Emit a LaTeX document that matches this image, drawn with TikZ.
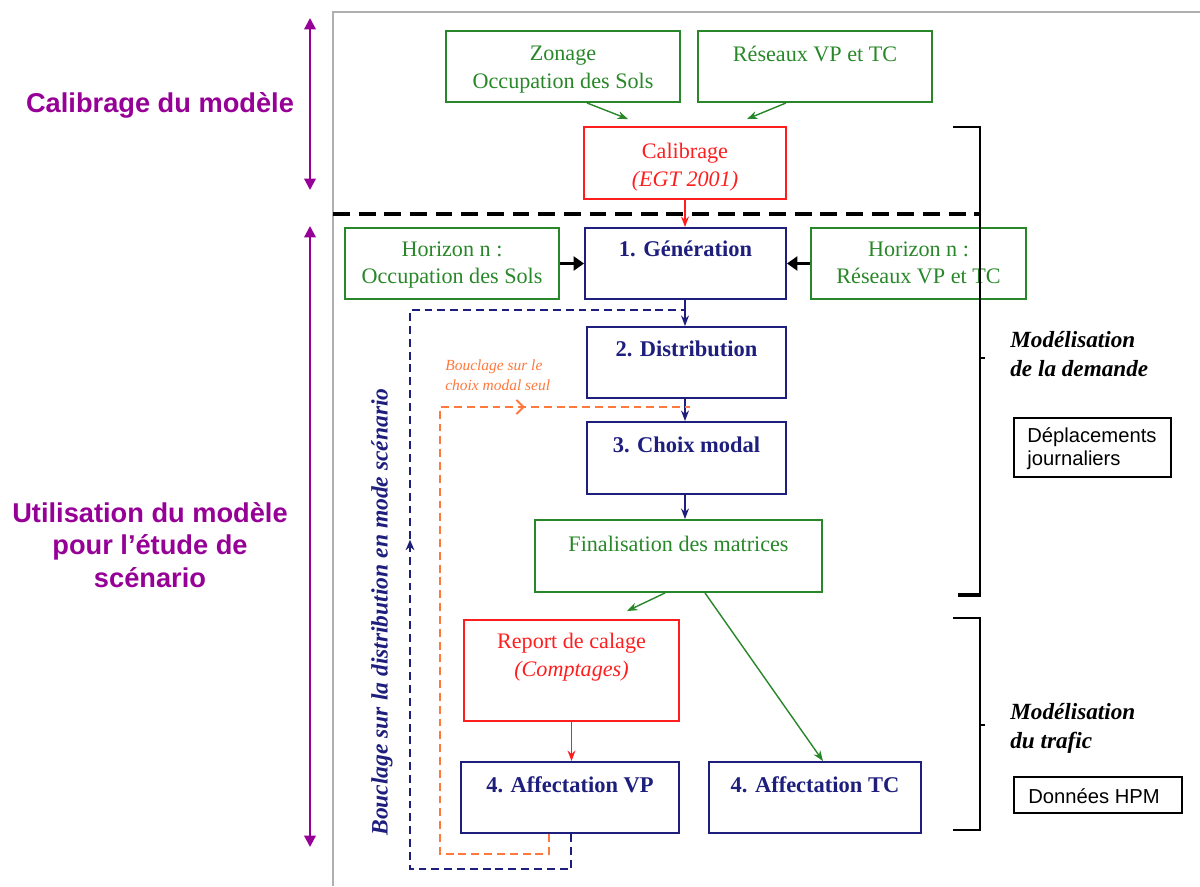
\documentclass[tikz,border=0pt]{standalone}
\usepackage{fontspec}
\setmainfont{Liberation Serif}
\setsansfont{Liberation Sans}
\usetikzlibrary{arrows.meta,decorations.markings}
\definecolor{cgreen}{RGB}{40,135,40}
\definecolor{cnavy}{RGB}{30,30,125}
\definecolor{cred}{RGB}{255,30,30}
\definecolor{corange}{RGB}{255,120,60}
\definecolor{cpurple}{RGB}{150,0,150}
\definecolor{cframe}{RGB}{175,175,175}
\tikzset{
  box/.style={draw, line width=1.1pt, inner sep=0pt},
  gbox/.style={box, draw=cgreen},
  nbox/.style={box, draw=cnavy},
  rbox/.style={box, draw=cred},
  kbox/.style={box, draw=black, line width=0.9pt},
  txt/.style={inner sep=0pt, anchor=north, align=center, font=\fontsize{12.6}{15.9}\selectfont},
  gtxt/.style={txt, text=cgreen},
  ntxt/.style={txt, text=cnavy, font=\bfseries\fontsize{12.8}{15.9}\selectfont},
  rtxt/.style={txt, text=cred},
  conn/.style={line width=0.8pt, -{Stealth[length=6pt,width=4.5pt]}},
  bigarr/.style={line width=2pt, -{Triangle[length=6pt,width=8pt]}},
  loopn/.style={cnavy, line width=0.9pt, dash pattern=on 4.5pt off 2.8pt},
  loopo/.style={corange, line width=1.1pt, dash pattern=on 4.5pt off 2.8pt},
  bracket/.style={line width=1.4pt},
  parr/.style={cpurple, line width=1.3pt, {Triangle[length=6.5pt,width=6.5pt]}-{Triangle[length=6.5pt,width=6.5pt]}},
  side/.style={inner sep=0pt, anchor=north west, align=left, font=\bfseries\itshape\fontsize{13.2}{16.5}\selectfont},
  sans/.style={inner sep=0pt, anchor=north west, align=left, font=\sffamily\fontsize{11.5}{13.5}\selectfont},
  ptxt/.style={inner sep=0pt, align=center, text=cpurple, font=\sffamily\bfseries\fontsize{15.5}{18.5}\selectfont}
}
\begin{document}
\begin{tikzpicture}[x=0.02cm,y=-0.02cm]
\useasboundingbox (0,0) rectangle (1200,886);
% frame
\draw[cframe, line width=1.2pt] (333,886) -- (333,12) -- (1200,12);
% boxes
\node[gbox, minimum width=4.68cm, minimum height=1.42cm] (zon) at (563,66.5) {};
\node[gtxt] (zont) at (563,46) {Zonage\\Occupation des Sols};
\node[gbox, minimum width=4.68cm, minimum height=1.42cm] (res) at (815,66.5) {};
\node[gtxt] (rest) at (815,46) {Réseaux VP et TC};
\node[rbox, minimum width=4.04cm, minimum height=1.44cm] (cal) at (685,163) {};
\node[rtxt] (calt) at (685,143) {Calibrage\\\textit{(EGT 2001)}};
\node[gbox, minimum width=4.28cm, minimum height=1.42cm] (hl) at (452,263.5) {};
\node[gtxt] (hlt) at (452,241) {Horizon n :\\Occupation des Sols};
\node[nbox, minimum width=4.02cm, minimum height=1.42cm] (gen) at (685.5,263.5) {};
\node[ntxt] (gent) at (685.5,241) {1. Génération};
\node[gbox, minimum width=4.3cm, minimum height=1.42cm] (hr) at (918.5,263.5) {};
\node[gtxt] (hrt) at (918.5,241) {Horizon n :\\Réseaux VP et TC};
\node[nbox, minimum width=3.98cm, minimum height=1.42cm] (dist) at (686.5,362.5) {};
\node[ntxt] (distt) at (686.5,341) {2. Distribution};
\node[nbox, minimum width=3.98cm, minimum height=1.44cm] (cho) at (686.5,458) {};
\node[ntxt] (chot) at (686.5,437) {3. Choix modal};
\node[gbox, minimum width=5.74cm, minimum height=1.44cm] (fin) at (678.5,556) {};
\node[gtxt] (fint) at (678.5,536) {Finalisation des matrices};
\node[rbox, minimum width=4.3cm, minimum height=2.02cm] (rep) at (571.5,670.5) {};
\node[rtxt] (rept) at (571.5,633) {Report de calage\\\textit{(Comptages)}};
\node[nbox, minimum width=4.36cm, minimum height=1.42cm] (avp) at (570,797.5) {};
\node[ntxt] (avpt) at (570,776) {4. Affectation VP};
\node[nbox, minimum width=4.24cm, minimum height=1.42cm] (atc) at (815,797.5) {};
\node[ntxt] (atct) at (815,776) {4. Affectation TC};
\node[kbox, minimum width=3.14cm, minimum height=1.18cm] (dep) at (1092.5,447.5) {};
\node[sans] (dept) at (1027,427) {Déplacements\\journaliers};
\node[kbox, minimum width=3.36cm, minimum height=0.72cm] (hpm) at (1098,795) {};
\node[sans] (hpmt) at (1028,788) {Données HPM};
% side texts
\node[side] (md) at (1010,331) {Modélisation\\de la demande};
\node[side] (mt) at (1010,703) {Modélisation\\du trafic};
\node[ptxt] (calm) at (160,105) {Calibrage du modèle};
\node[ptxt] (util) at (150,545) {Utilisation du modèle\\pour l’étude de\\scénario};
\node[rotate=90, inner sep=0pt, text=cnavy, font=\bfseries\itshape\fontsize{13.4}{16}\selectfont] (bcl) at (382,612) {Bouclage sur la distribution en mode scénario};
\node[inner sep=0pt, anchor=north west, align=left, text=corange, font=\itshape\fontsize{8.8}{11.8}\selectfont] (bco) at (445,359) {Bouclage sur le\\choix modal seul};
% connectors
\draw[conn, cgreen] ([xshift=0.48cm]zon.south) -- ([xshift=-1.14cm, yshift=0.14cm]cal.north);
\draw[conn, cgreen] ([xshift=-0.58cm]res.south) -- ([xshift=1.24cm, yshift=0.14cm]cal.north);
\draw[conn, cred] (cal.south) -- (cal.south |- gen.north);
\draw[bigarr] (hl.east) -- (gen.west);
\draw[bigarr] (hr.west) -- (gen.east);
\draw[conn, cnavy] (cal.south |- gen.south) -- (cal.south |- dist.north);
\draw[conn, cnavy] (cal.south |- dist.south) -- (cal.south |- cho.north);
\draw[conn, cnavy] (cal.south |- cho.south) -- (cal.south |- fin.north);
\draw[conn, cgreen] ([xshift=-0.27cm]fin.south) -- ([xshift=1.11cm, yshift=0.16cm]rep.north);
\draw[conn, cgreen] ([xshift=0.53cm]fin.south) -- ([xshift=0.16cm]atc.north);
\draw[conn, cred] (rep.south) -- (rep.south |- avp.north);
% loops
\coordinate (j1) at (685,310);
\coordinate (j2) at (690,407);
\draw[loopn, postaction={decorate}, decoration={markings, mark=at position 0.51 with {\arrow[solid]{Stealth[length=6pt,width=5pt,open]}}}]
  ([xshift=0.02cm]avp.south) -- ++(0,35) -| (410,310) -- (j1);
\draw[loopo, postaction={decorate}, decoration={markings, mark=at position 0.8 with {\arrow[solid]{Straight Barb[length=4pt,width=8pt]}}}]
  ([xshift=-0.42cm]avp.south) -- ++(0,20) -| (440,407) -- (j2);
% dashed separator
\draw[line width=2.3pt, dash pattern=on 9.6pt off 5pt] (333,214) -- (980,214);
% brackets
\draw[bracket] (953,127) -- (980,127) -- (980,595);
\draw[line width=2.4pt] (958,595) -- (981,595);
\draw[line width=0.8pt] (980,358) -- (985,358);
\draw[bracket] (953,618) -- (980,618) -- (980,830) -- (953,830);
\draw[line width=0.8pt] (980,725) -- (985,725);
% purple arrows
\coordinate (p1) at (310,18);
\coordinate (p2) at (310,190);
\coordinate (p3) at (310,226);
\coordinate (p4) at (310,847);
\draw[parr] (p1) -- (p2);
\draw[parr] (p3) -- (p4);
\end{tikzpicture}
\end{document}
